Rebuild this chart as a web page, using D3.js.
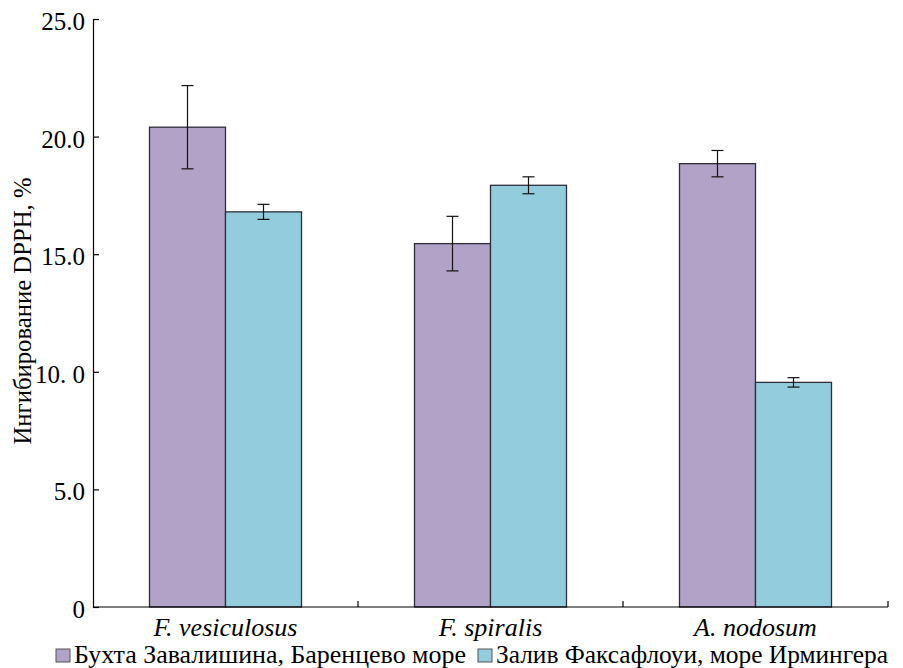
<!DOCTYPE html>
<html>
<head>
<meta charset="utf-8">
<style>
  body { margin: 0; background: #fff; }
</style>
<title>Ингибирование DPPH</title>
</head>
<body>
<script src="https://cdn.jsdelivr.net/npm/d3@7/dist/d3.min.js"></script>
<script>
  // data
  var species = ["F. vesiculosus", "F. spiralis", "A. nodosum"];
  var seriesNames = ["Бухта Завалишина, Баренцево море", "Залив Факсафлоуи, море Ирмингера"];
  var barentsValues = [20.4, 15.45, 18.85];
  var barentsErrors = [1.77, 1.16, 0.56];
  var irmingerValues = [16.8, 17.93, 9.55];
  var irmingerErrors = [0.32, 0.36, 0.2];
  var yTicks = [0, 5, 10, 15, 20, 25];
  var yTickLabels = ["0", "5.0", "10. 0", "15.0", "20.0", "25.0"];
  var colors = ["#b1a2c7", "#93cddd"];

  var FONT = "'Liberation Serif'";
  var width = 903, height = 668;
  var margin = { top: 19, left: 93, bottom: 61, right: 15 };

  var svg = d3.select("body").append("svg")
    .attr("width", width)
    .attr("height", height);

  var x = d3.scaleBand()
    .domain(species)
    .range([margin.left, width - margin.right]);

  var xInner = d3.scaleBand()
    .domain([0, 1])
    .range([0, 152]);

  var y = d3.scaleLinear()
    .domain([0, 25])
    .range([height - margin.bottom, margin.top]);

  var rows = [];
  species.forEach(function (s, i) {
    rows.push({ sp: s, k: 0, v: barentsValues[i], e: barentsErrors[i] });
    rows.push({ sp: s, k: 1, v: irmingerValues[i], e: irmingerErrors[i] });
  });

  function barX(d) {
    return x(d.sp) + (x.bandwidth() - 152) / 2 + xInner(d.k);
  }

  // bars
  svg.append("g").attr("id", "bars")
    .selectAll("rect").data(rows)
    .enter().append("rect")
    .attr("x", barX)
    .attr("y", function (d) { return y(d.v); })
    .attr("width", xInner.bandwidth())
    .attr("height", function (d) { return y(0) - y(d.v); })
    .attr("fill", function (d) { return colors[d.k]; })
    .attr("stroke", "#2e2e3a")
    .attr("stroke-width", 1.3);

  // error bars
  var err = svg.append("g").attr("id", "errors")
    .selectAll("g").data(rows)
    .enter().append("g")
    .attr("stroke", "#111")
    .attr("stroke-width", 1.2);

  function cx(d) { return barX(d) + xInner.bandwidth() / 2; }

  err.append("line")
    .attr("x1", cx).attr("x2", cx)
    .attr("y1", function (d) { return y(d.v + d.e); })
    .attr("y2", function (d) { return y(d.v - d.e); });
  err.append("line")
    .attr("x1", function (d) { return cx(d) - 6; })
    .attr("x2", function (d) { return cx(d) + 6; })
    .attr("y1", function (d) { return y(d.v + d.e); })
    .attr("y2", function (d) { return y(d.v + d.e); });
  err.append("line")
    .attr("x1", function (d) { return cx(d) - 6; })
    .attr("x2", function (d) { return cx(d) + 6; })
    .attr("y1", function (d) { return y(d.v - d.e); })
    .attr("y2", function (d) { return y(d.v - d.e); });

  // y axis, ticks inward
  var yAxis = d3.axisRight(y)
    .tickValues(yTicks)
    .tickSize(6)
    .tickSizeOuter(0)
    .tickFormat(function (d, i) { return yTickLabels[i]; });

  var gy = svg.append("g")
    .attr("id", "y_axis")
    .attr("transform", "translate(" + margin.left + ",0)")
    .call(yAxis);
  gy.select(".domain").attr("stroke", "#000").attr("stroke-width", 1.2);
  gy.selectAll(".tick line").attr("stroke", "#000").attr("stroke-width", 1.2);
  gy.selectAll(".tick text")
    .attr("x", -8)
    .attr("dy", "0.42em")
    .attr("text-anchor", "end")
    .style("font-family", FONT)
    .style("font-size", "25px");

  // x axis line with ticks at category boundaries
  var gx = svg.append("g").attr("id", "x_axis");
  gx.append("line")
    .attr("x1", margin.left).attr("x2", width - margin.right)
    .attr("y1", y(0)).attr("y2", y(0))
    .attr("stroke", "#000").attr("stroke-width", 1.2);
  gx.selectAll("line.sep").data(species)
    .enter().append("line")
    .attr("class", "sep")
    .attr("x1", function (d) { return x(d) + x.bandwidth(); })
    .attr("x2", function (d) { return x(d) + x.bandwidth(); })
    .attr("y1", y(0)).attr("y2", y(0) - 6)
    .attr("stroke", "#000").attr("stroke-width", 1.2);
  gx.selectAll("text").data(species)
    .enter().append("text")
    .attr("x", function (d) { return x(d) + x.bandwidth() / 2; })
    .attr("y", 636)
    .attr("text-anchor", "middle")
    .style("font-family", FONT)
    .style("font-size", "26px")
    .style("font-style", "italic")
    .text(function (d) { return d; });

  // y axis label
  svg.append("text")
    .attr("id", "y_axis_label")
    .attr("transform", "translate(31,311) rotate(-90)")
    .attr("text-anchor", "middle")
    .attr("textLength", 267)
    .attr("lengthAdjust", "spacingAndGlyphs")
    .style("font-family", FONT)
    .style("font-size", "25px")
    .text("Ингибирование DPPH, %");

  // legend
  var legendX = [56, 478];
  var legendLen = [392, 392];
  var lg = svg.append("g").attr("id", "legend")
    .selectAll("g").data(seriesNames)
    .enter().append("g")
    .attr("transform", function (d, i) { return "translate(" + legendX[i] + ",663)"; });
  lg.append("rect")
    .attr("x", 0).attr("y", -14)
    .attr("width", 14).attr("height", 13)
    .attr("fill", function (d, i) { return colors[i]; })
    .attr("stroke", "#555").attr("stroke-width", 1);
  lg.append("text")
    .attr("x", 18)
    .attr("y", 0)
    .attr("textLength", function (d, i) { return legendLen[i]; })
    .attr("lengthAdjust", "spacingAndGlyphs")
    .style("font-family", FONT)
    .style("font-size", "25px")
    .text(function (d) { return d; });
</script>
</body>
</html>
